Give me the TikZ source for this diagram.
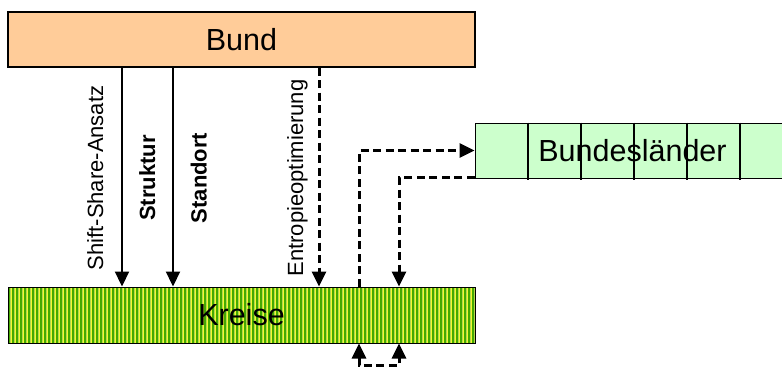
\documentclass[tikz,border=0pt]{standalone}
\usepackage{fontspec}
\setmainfont{Liberation Sans}
\usetikzlibrary{arrows.meta}
\definecolor{bundfill}{HTML}{FFCC99}
\definecolor{blfill}{HTML}{CCFFCC}
\definecolor{kyellow}{HTML}{F4FA30}
\definecolor{kdark}{HTML}{44AA00}
\definecolor{klight}{HTML}{B4D850}
\begin{document}
\begin{tikzpicture}[x=1pt,y=-1pt,
  box/.style={draw=black, line width=1.3pt, rectangle, inner sep=0pt, font=\fontsize{30.5}{36}\selectfont},
  lbl/.style={rotate=90, anchor=base, inner sep=0pt, font=\fontsize{22}{26}\selectfont},
  lblb/.style={lbl, font=\fontsize{22}{26}\selectfont\bfseries},
  solidarrow/.style={line width=2.2pt, -{Triangle[width=14pt,length=15pt]}},
  dasharrow/.style={line width=3pt, dash pattern=on 8pt off 4.5pt, -{Triangle[width=14pt,length=15pt]}},
  stripes/.style={path picture={
    \foreach \i in {0,...,117}{
      \draw[kdark, line width=1.1pt] ([xshift=\i*4pt+1pt]path picture bounding box.north west) -- ([xshift=\i*4pt+1pt]path picture bounding box.south west);
      \draw[klight, line width=1.1pt] ([xshift=\i*4pt+2.6pt]path picture bounding box.north west) -- ([xshift=\i*4pt+2.6pt]path picture bounding box.south west);
    }}}
]
\useasboundingbox (0,0) rectangle (782,372);

% boxes
\node[box, fill=bundfill, minimum width=467pt, minimum height=55pt] (Bund) at (241.5,39.5) {Bund};
\node[box, line width=1pt, fill=kyellow, stripes, minimum width=467pt, minimum height=56pt] (Kreise) at (241.5,315) {Kreise};
\node[box, line width=1pt, fill=blfill, minimum width=318pt, minimum height=55pt] (BL) at (634,150.5) {\hspace*{-3pt}Bundesländer};
\foreach \k in {1,...,5}
  \draw[line width=2pt] ([xshift=\k*53pt]BL.north west) -- ([xshift=\k*53pt, yshift=-1pt]BL.south west);

% x positions of connectors
\coordinate (c1) at (122,0);
\coordinate (c2) at (173,0);
\coordinate (c3) at (319,0);
\coordinate (c4) at (359,0);
\coordinate (c5) at (399,0);

% solid / dashed arrows from Bund to Kreise
\draw[solidarrow] (Bund.south -| c1) -- (Kreise.north -| c1);
\draw[solidarrow] (Bund.south -| c2) -- (Kreise.north -| c2);
\draw[dasharrow] (Bund.south -| c3) -- (Kreise.north -| c3);

% labels
\node[lbl] (l1) at (103,178) {Shift-Share-Ansatz};
\node[lblb] (l2) at (155,178) {Struktur};
\node[lblb] (l3) at (206.5,178) {Standort};
\node[lbl] (l4) at (303,178) {Entropieoptimierung};

% Kreise <-> Bundeslaender
\draw[dasharrow] (Kreise.north -| c4) |- (BL.west);
\draw[dasharrow] ([yshift=1pt]BL.south west) -| (Kreise.north -| c5);

% loop below Kreise
\draw[dasharrow, {Triangle[width=14pt,length=15pt]}-{Triangle[width=14pt,length=15pt]}]
  (Kreise.south -| c4) -- ++(0,22) -| (Kreise.south -| c5);
\end{tikzpicture}
\end{document}
